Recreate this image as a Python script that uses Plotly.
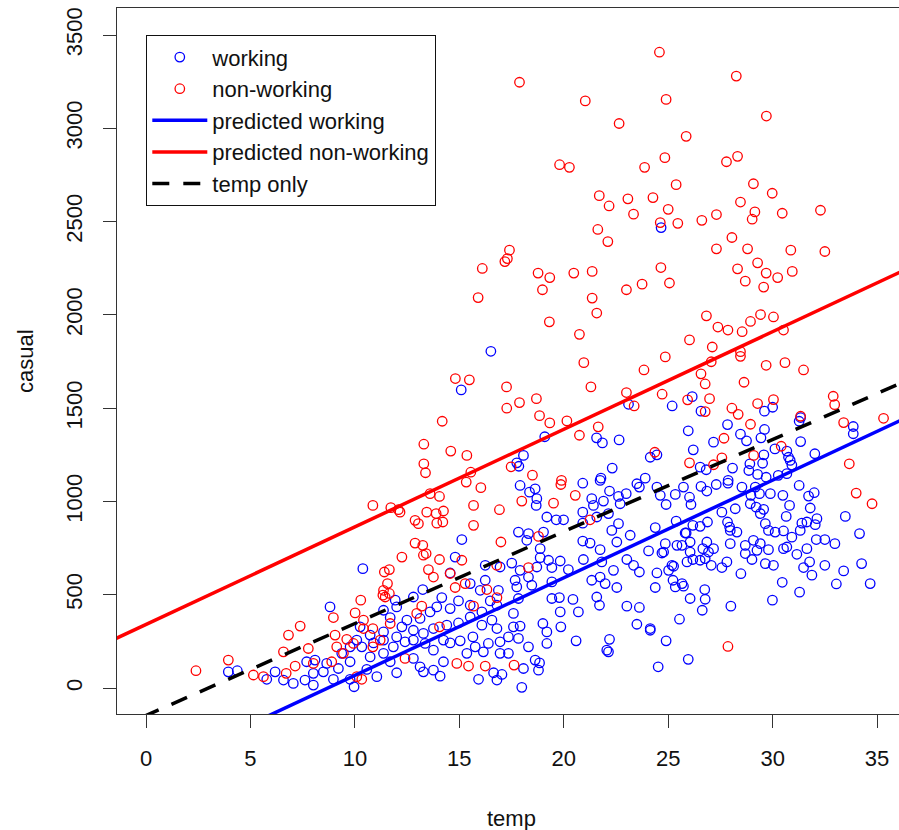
import plotly.graph_objects as go

# ---------------- data ----------------
nonwork_temp = [
    24.58, 28.26, 24.9, 29.7, 25.86, 24.84, 28.32, 27.79, 29.08, 25.38, 29.98, 24.27, 25.0, 28.46, 29.15,
    29.02, 30.46, 32.29, 27.31, 26.61, 25.46, 24.62, 28.05, 27.31, 28.8, 30.87, 32.5, 24.65, 28.32, 29.28,
    29.69, 30.94, 30.24, 25.06, 28.69, 29.57,
    17.88, 21.03, 22.65, 19.8, 20.27, 23.87, 21.7, 22.17, 23.07, 23.34, 21.63, 22.11, 17.4, 17.3, 17.18,
    16.1, 18.77, 19.33, 20.48, 21.36, 18.98, 23.75, 23.0, 15.9, 21.36,
    21.58, 19.31, 20.75, 20.96, 23.84, 14.81, 15.48, 17.26, 21.3, 23.0, 23.37, 18.69, 17.27, 17.88, 14.18,
    18.84, 19.33, 20.15, 21.65, 20.75, 13.3, 14.59, 15.36, 17.48, 13.3, 13.38, 18.5, 15.55, 19.89,
    26.83, 29.42, 30.04, 28.94, 27.38, 27.86, 28.54, 30.52, 26.02, 27.11, 28.46, 28.46, 24.86, 27.06, 29.69,
    30.59, 31.48, 26.57, 26.77, 28.63, 24.71, 25.93, 26.98, 32.9, 32.97, 30.04, 29.28, 28.05, 28.35, 26.77,
    31.34, 33.4, 35.31, 28.94, 27.67, 30.41, 24.36, 29.09, 27.57, 26.02, 27.17, 33.67,
    34.0, 34.76, 27.86,
    13.6, 14.05, 12.16, 12.88, 13.04, 13.44, 13.89, 14.24, 13.92, 14.21, 15.68, 15.68, 16.92, 16.03, 15.33,
    17.99, 19.51, 19.86, 20.55, 12.88, 13.25, 13.28, 13.41, 14.05, 12.25, 13.52, 13.76, 15.12, 14.56, 15.28,
    14.8, 16.99, 16.79, 18.31, 18.79, 21.26, 16.32, 16.8, 15.68, 13.2, 12.96, 14.05, 12.4, 14.88, 15.44,
    16.24, 17.62,
    10.86, 11.72, 12.08, 11.65, 11.41, 11.56, 11.37, 11.34, 11.45, 10.28, 10.01, 8.97, 7.38, 6.82, 9.05,
    6.58, 7.77, 10.41, 10.41, 10.86, 11.69, 9.61, 9.93, 9.13, 10.86, 11.21, 9.45, 8.89, 8.01, 7.14,
    6.71, 5.62, 5.14, 3.94, 2.39, 10.09, 10.33, 11.65,
]
nonwork_casual = [
    3408, 3280, 3155, 3066, 2957, 2843, 2850, 2821, 2703, 2698, 2652, 2629, 2566, 2605, 2552,
    2513, 2545, 2561, 2538, 2507, 2491, 2495, 2415, 2354, 2354, 2347, 2340, 2254, 2247, 2279,
    2224, 2233, 2200, 2171, 2181, 2149,
    3247, 3147, 3026, 2805, 2791, 2791, 2639, 2584, 2622, 2540, 2458, 2393, 2347, 2302, 2286,
    2249, 2224, 2200, 2224, 2233, 2135, 2165, 2135, 2093, 2090,
    2010, 1963, 1896, 1744, 1705, 1659, 1652, 1614, 1614, 1584, 1512, 1551, 1500, 1530, 1430,
    1460, 1421, 1432, 1400, 1355, 1307, 1270, 1247, 1186, 1202, 1154, 1141, 1157, 1113,
    1995, 2002, 1989, 1965, 1935, 1919, 1910, 1919, 1866, 1828, 1803, 1778, 1775, 1749, 1730,
    1744, 1705, 1684, 1630, 1639, 1575, 1545, 1551, 1564, 1519, 1546, 1525, 1500, 1467, 1482,
    1457, 1423, 1446, 1414, 1339, 1296, 1264, 1247, 1234, 1207, 1197, 1202,
    1045, 988, 223,
    1042, 1027, 943, 899, 881, 943, 935, 949, 884, 890, 979, 872, 956, 1074, 1104,
    1002, 991, 1091, 1033, 777, 765, 712, 721, 689, 702, 635, 595, 685, 614, 560,
    539, 783, 658, 646, 813, 902, 528, 485, 439, 439, 400, 328, 159, 132, 118,
    118, 123,
    979, 967, 956, 635, 622, 560, 524, 498, 488, 471, 403, 378, 332, 284, 284,
    194, 212, 364, 319, 319, 346, 261, 239, 221, 221, 257, 186, 141, 132, 118,
    79, 61, 70, 150, 93, 61, 47, 507,
]

work_temp = [
    24.66,
    16.51, 15.09, 23.1, 19.09, 21.57, 21.85, 22.65, 18.07, 17.75, 17.85, 22.32, 21.78, 23.9, 24.14,
    26.15, 25.19, 26.57, 29.61, 30.0, 31.34, 31.27, 27.84, 33.86, 33.86, 25.96, 28.46, 29.61, 28.75, 29.44,
    27.17, 31.34, 26.2, 24.46, 30.68, 30.76, 32.02, 30.11, 29.58, 30.84, 29.52, 30.92, 28.91, 28.86, 28.08,
    26.82, 26.53, 29.28, 29.69, 30.27, 27.87, 30.68,
    24.46, 25.73, 26.57, 26.85, 27.3, 27.86, 28.53, 29.17, 29.37, 28.96, 29.89, 30.49, 31.27, 31.72, 31.99,
    24.62, 24.9, 25.34, 26.02, 26.09, 30.81, 31.8, 33.48, 34.16, 34.26, 34.67, 33.4, 33.05, 32.5, 32.98,
    32.5, 32.09, 31.88, 31.48, 31.29, 30.46, 29.99, 28.0, 26.63, 25.54, 24.9, 25.96, 24.52, 24.14, 26.75,
    26.77, 26.05, 25.73, 24.38, 25.34, 25.23, 24.46, 25.02, 25.26, 28.48, 27.57, 27.81, 27.06, 25.9, 26.18,
    26.53, 26.77, 26.93, 27.17, 26.66, 26.05, 25.66, 25.42, 24.78, 24.86, 25.81, 26.05, 26.85, 27.97, 28.69,
    29.08, 29.41, 29.25, 28.69, 29.01, 29.8, 29.65, 30.04, 30.52, 30.68, 31.16, 31.64, 31.77, 30.92, 30.52,
    31.32, 31.4, 31.64, 32.04, 32.12, 30.65, 29.65, 29.8, 30.12, 29.41, 29.57, 29.21, 28.93, 28.29, 27.94,
    27.84, 27.97, 27.57, 28.21, 26.88, 26.53, 26.18, 25.86, 25.38, 24.38, 24.7, 25.18, 25.66,
    15.12, 14.8, 14.56, 13.25, 12.8, 14.16, 13.92, 14.56, 14.96, 15.52, 16.24, 17.51, 16.87, 16.0, 16.48,
    15.52, 16.08, 16.8, 16.56, 16.08, 16.8, 14.96, 14.4, 13.6, 13.12, 12.49, 12.25, 12.8, 13.28, 13.76,
    13.36, 12.8, 12.4, 13.76, 14.24, 14.56, 15.04, 15.65, 15.76, 16.15, 16.39, 16.95, 16.95, 17.35, 17.83,
    18.31, 17.35, 15.36, 14.24, 13.76, 13.12, 13.28, 12.8, 14.08, 15.92, 16.8, 17.04, 16.64, 17.99, 18.07,
    18.63, 18.84, 18.79, 17.59, 17.83, 18.31, 17.67, 18.47, 17.59, 17.91, 19.0, 19.19, 19.86, 19.19, 20.59,
    19.43, 19.79, 19.83, 20.44, 20.7, 21.58, 21.71, 22.19, 22.06, 23.5, 23.02, 23.62, 24.14, 18.71, 19.43,
    20.22, 20.94, 21.34, 21.74, 21.98, 22.54, 22.38, 21.82, 23.02, 23.34, 23.62, 24.06, 21.74, 21.26, 20.91,
    22.54, 23.18, 22.62, 22.3, 22.14, 21.58, 20.91, 20.91, 21.42, 21.34, 21.9, 22.19, 22.62, 22.99, 23.62,
    18.71, 18.68, 19.19, 19.64, 19.99, 17.83, 18.31, 18.23, 19.03, 18.87, 18.87, 19.27, 19.83, 19.43, 17.91,
    17.75, 16.95, 16.24, 15.52, 17.91, 18.36, 18.63, 20.91, 21.74, 23.5, 22.7, 22.14,
    10.38, 8.81, 3.94, 4.37, 7.69, 6.18, 5.78, 9.77, 8.01, 8.49, 8.97, 7.05, 6.58, 7.61, 8.01,
    9.96, 8.09, 8.65, 9.21, 9.77, 10.57, 11.05, 12.0, 11.69, 10.73, 11.37, 11.84, 12.0, 11.37, 11.69,
    12.0, 11.37, 11.93, 10.09, 10.33, 9.77, 9.37, 10.25, 10.73, 10.89, 11.37,
]
work_casual = [
    2468,
    1805, 1598, 1521, 1347, 1341, 1314, 1330, 1247, 1207, 1189, 1179, 1125, 1125, 1237,
    1562, 1512, 1484, 1484, 1505, 1450, 1430, 1412, 1402, 1363, 1379, 1361, 1386, 1325, 1341,
    1318, 1321, 1277, 1250, 1270, 1237, 1256, 1282, 1250, 1220, 1205, 1195, 1202, 1166, 1179,
    1170, 1184, 1145, 1130, 1140, 1113, 1149,
    1077, 1077, 1081, 1056, 1091, 1098, 1077, 1077, 1042, 1033, 1042, 1033, 1086, 1029, 1047,
    1033, 984, 1038, 1023, 984, 979, 965, 920, 828, 667, 560, 628, 558, 658, 774,
    796, 796, 605, 646, 514, 567, 471, 439, 417, 369, 253, 154, 114, 310, 528,
    476, 480, 546, 539, 542, 578, 617, 631, 653, 613, 646, 676, 658, 676, 689,
    685, 694, 729, 747, 747, 729, 765, 765, 729, 774, 831, 783, 783, 774, 765,
    792, 774, 738, 721, 689, 742, 667, 658, 747, 756, 717, 747, 676, 809, 842,
    845, 884, 890, 876, 908, 920, 881, 845, 836, 935, 958, 970, 988, 836, 863,
    890, 845, 943, 961, 890, 867, 872, 831, 895, 860, 724, 658, 560,
    796, 702, 617, 528, 488, 485, 435, 426, 467, 444, 658, 670, 524, 524, 467,
    381, 408, 444, 364, 337, 319, 349, 337, 408, 373, 364, 328, 310, 293, 319,
    239, 257, 248, 203, 257, 242, 253, 274, 221, 194, 239, 248, 186, 274, 266,
    221, 186, 186, 141, 96, 114, 87, 159, 64, 47, 43, 73, 82, 4, 105,
    150, 135, 96, 400, 480, 595, 578, 551, 328, 332, 346, 301, 328, 239, 253,
    480, 485, 408, 475, 408, 488, 444, 261, 203, 342, 439, 432, 319, 649, 569,
    635, 689, 578, 595, 560, 539, 631, 676, 689, 658, 622, 735, 742, 777, 788,
    783, 819, 881, 845, 935, 917, 884, 943, 979, 1015, 1002, 1056, 1027, 1042, 1077,
    1015, 979, 917, 902, 902, 836, 828, 792, 836, 747, 699, 685, 681, 646, 631,
    542, 649, 578, 560, 1086, 1050, 1068, 1098, 1113, 1095, 988, 194,
    640, 435, 87, 93, 141, 87, 47, 47, 79, 87, 47, 25, 43, 43, 16,
    7, 150, 132, 105, 141, 100, 61, 82, 141, 167, 186, 221, 274, 301, 378,
    435, 417, 471, 257, 221, 221, 186, 328, 284, 242, 257,
]

# fitted lines (intercept, slope)
fit_names = ["predicted working", "predicted non-working", "temp only"]
fit_intercepts = [-455, 341, -147]
fit_slopes = [52.3, 52.3, 49.3]

x_ticks = [0, 5, 10, 15, 20, 25, 30, 35]
y_ticks = [0, 500, 1000, 1500, 2000, 2500, 3000, 3500]

X_RANGE = [-1.39, 36.05]
Y_RANGE = [-139, 3645]

FONT = "Liberation Sans, Arial, sans-serif"
FS = 22

fig = go.Figure()
fig.add_trace(go.Scatter(
    x=work_temp, y=work_casual, mode="markers", name="working",
    marker=dict(symbol="circle-open", size=9.5, color="#0000FF", line=dict(width=1.3, color="#0000FF")),
))
fig.add_trace(go.Scatter(
    x=nonwork_temp, y=nonwork_casual, mode="markers", name="non-working",
    marker=dict(symbol="circle-open", size=9.5, color="#FF0000", line=dict(width=1.3, color="#FF0000")),
))

line_styles = [
    dict(color="#0000FF", width=3.5),
    dict(color="#FF0000", width=3.5),
    dict(color="#000000", width=3.5, dash="17px,14px"),
]
xe = [-1.5, 37]
for name, a, b, st in zip(fit_names, fit_intercepts, fit_slopes, line_styles):
    fig.add_trace(go.Scatter(
        x=xe, y=[a + b * v for v in xe], mode="lines", name=name, line=st,
    ))

fig.update_layout(
    width=899, height=830,
    margin=dict(l=117, r=0, t=8, b=116, autoexpand=False),
    paper_bgcolor="white", plot_bgcolor="white",
    font=dict(family=FONT, size=FS, color="#111111"),
    showlegend=True,
    legend=dict(
        x=(146 - 117) / 782, y=(714 - 35) / 706, xanchor="left", yanchor="top",
        bordercolor="#111111", borderwidth=1.3, bgcolor="white",
        font=dict(family=FONT, size=FS, color="#111111"),
        itemwidth=55, tracegroupgap=0,
    ),
    annotations=[
        dict(text="temp", xref="paper", yref="paper", x=(511 - 117) / 782, y=(714 - 818) / 706,
             xanchor="center", yanchor="middle", showarrow=False, font=dict(size=FS)),
        dict(text="casual", xref="paper", yref="paper", x=(25 - 117) / 782, y=0.5,
             xanchor="center", yanchor="middle", showarrow=False, textangle=-90, font=dict(size=FS)),
    ],
)
fig.update_xaxes(
    range=X_RANGE, tickvals=x_ticks, ticktext=[str(v) for v in x_ticks], automargin=False,
    showgrid=False, zeroline=False, showline=True, mirror=True,
    linecolor="#333333", linewidth=1.3, ticks="outside", ticklen=13, tickwidth=1.3, tickcolor="#333333",
    ticklabelstandoff=11,
)
fig.update_yaxes(
    range=Y_RANGE, tickvals=y_ticks, ticktext=[str(v) for v in y_ticks], tickangle=-90, automargin=False,
    showgrid=False, zeroline=False, showline=True, mirror=False,
    linecolor="#333333", linewidth=1.3, ticks="outside", ticklen=13, tickwidth=1.3, tickcolor="#333333",
    ticklabelstandoff=12,
)

fig.write_html(
    "out.html",
    config={"displayModeBar": False},
    post_script="document.body.style.margin='0';document.body.style.padding='0';document.body.style.overflow='hidden';",
)
